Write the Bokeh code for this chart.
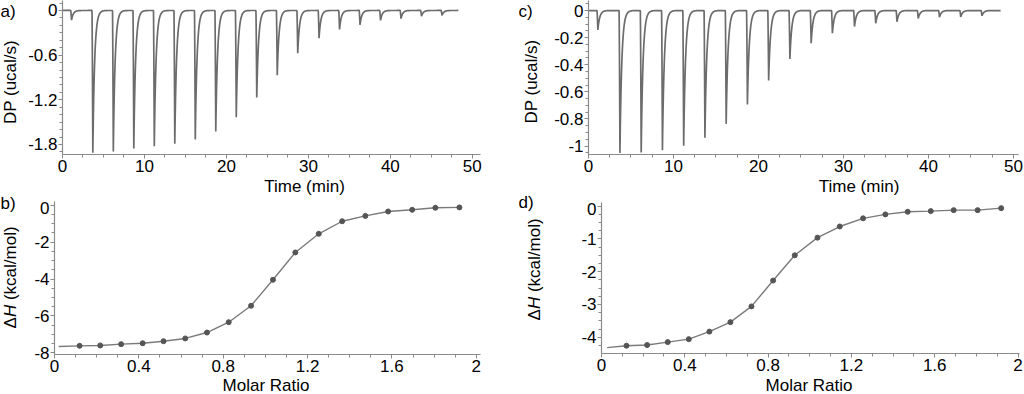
import numpy as np
from bokeh.plotting import figure
from bokeh.layouts import row, column
from bokeh.models import FixedTicker, CustomJSTickFormatter, Range1d
from bokeh.core.properties import value
from bokeh.embed import file_html
from bokeh.resources import INLINE

FONT = "Liberation Sans"
FS = "17px"

# ---------------- data ----------------
# injection peak times (min), shared by both raw thermograms
peak_times = [1.1, 3.7, 6.2, 8.7, 11.2, 13.7, 16.2, 18.7, 21.2, 23.7,
              26.2, 28.7, 31.3, 33.8, 36.3, 38.8, 41.3, 43.8, 46.3]
# peak depths (ucal/s, magnitude)
peaks_a = [0.13, 1.913, 1.895, 1.855, 1.824, 1.79, 1.734, 1.626, 1.434, 1.17,
           0.87, 0.574, 0.372, 0.255, 0.193, 0.134, 0.11, 0.077, 0.067]
peaks_c = [0.143, 1.05, 1.047, 1.03, 0.998, 0.939, 0.836, 0.693, 0.516, 0.357,
           0.241, 0.167, 0.118, 0.094, 0.083, 0.059, 0.049, 0.047, 0.039]
end_a = 48.3
end_c = 48.5

# integrated heats
ratio_b = [0.119, 0.217, 0.316, 0.418, 0.517, 0.62, 0.723, 0.826, 0.932,
           1.036, 1.142, 1.253, 1.364, 1.474, 1.582, 1.696, 1.806, 1.92]
dh_b = [-7.62, -7.60, -7.53, -7.48, -7.37, -7.22, -6.90, -6.34, -5.45,
        -4.04, -2.56, -1.55, -0.87, -0.58, -0.34, -0.25, -0.14, -0.12]
fit_b_x = [0.02] + ratio_b
fit_b_y = [-7.66] + dh_b

ratio_d = [0.12, 0.219, 0.318, 0.419, 0.518, 0.619, 0.72, 0.824, 0.928,
           1.037, 1.144, 1.256, 1.363, 1.47, 1.581, 1.691, 1.806, 1.919]
dh_d = [-4.26, -4.24, -4.15, -4.06, -3.83, -3.54, -3.06, -2.27, -1.50,
        -0.96, -0.62, -0.37, -0.25, -0.17, -0.15, -0.12, -0.12, -0.06]
fit_d_x = [0.027] + ratio_d
fit_d_y = [-4.32] + dh_d

# ticks
time_ticks = [0, 10, 20, 30, 40, 50]
time_labels = ["0", "10", "20", "30", "40", "50"]
ratio_ticks = [0, 0.4, 0.8, 1.2, 1.6, 2]
ratio_labels = ["0", "0.4", "0.8", "1.2", "1.6", "2"]
dp_a_ticks = [0, -0.6, -1.2, -1.8]
dp_a_labels = ["0", "-0.6", "-1.2", "-1.8"]
dp_c_ticks = [0, -0.2, -0.4, -0.6, -0.8, -1]
dp_c_labels = ["0", "-0.2", "-0.4", "-0.6", "-0.8", "-1"]
dh_b_ticks = [0, -2, -4, -6, -8]
dh_b_labels = ["0", "-2", "-4", "-6", "-8"]
dh_d_ticks = [0, -1, -2, -3, -4]
dh_d_labels = ["0", "-1", "-2", "-3", "-4"]

# texts
panel_letters = ["a)", "b)", "c)", "d)"]
dp_title = "DP (ucal/s)"
time_title = "Time (min)"
ratio_title = "Molar Ratio"
dh_parts = ["Δ", "H", "(kcal/mol)"]


def minor(lo, hi, step):
    n = int(round((hi - lo) / step))
    return [round(lo + i * step, 4) for i in range(n + 1)]


def trace(times, depths, t_end, fall=0.1, tau=0.22):
    t = np.union1d(np.linspace(0, t_end, 5000), np.array(times))
    y = np.zeros_like(t)
    for tp, d in zip(times, depths):
        t0 = tp - fall
        m = (t >= t0) & (t < tp)
        y[m] -= d * ((t[m] - t0) / fall) ** 1.3
        m2 = t >= tp
        y[m2] -= d * np.exp(-(t[m2] - tp) / tau)
    return t, y


LINE = "#6c6c6c"
FITLINE = "#7a7a7a"
DOT = "#555555"
AXIS = "#8a8a8a"


def make_fig(xr, yr, fw, fh, bl, br, bt, bb):
    p = figure(x_range=Range1d(*xr), y_range=Range1d(*yr),
               frame_width=fw, frame_height=fh,
               min_border_left=bl, min_border_right=br,
               min_border_top=bt, min_border_bottom=bb,
               output_backend="svg", toolbar_location=None,
               background_fill_color="white", border_fill_color="white")
    p.grid.visible = False
    p.outline_line_color = None
    return p


def make_strip(w, h):
    s = figure(x_range=Range1d(0, w), y_range=Range1d(0, h),
               frame_width=w, frame_height=h,
               min_border_left=0, min_border_right=0,
               min_border_top=0, min_border_bottom=0,
               x_axis_type=None, y_axis_type=None,
               output_backend="svg", toolbar_location=None,
               background_fill_color="white", border_fill_color="white")
    s.grid.visible = False
    s.outline_line_color = None
    return s


def put(s, x, y, text, angle=0.0, align="left", baseline="middle", fstyle="normal"):
    s.text(x=[x], y=[y], text=[text], angle=angle,
           text_align=value(align), text_baseline=value(baseline),
           text_font=value(FONT), text_font_size=value(FS),
           text_font_style=value(fstyle), text_color="black")


def style_axis(ax, ticks, minors, labels):
    ax.ticker = FixedTicker(ticks=ticks, minor_ticks=minors)
    ax.formatter = CustomJSTickFormatter(
        args=dict(vals=ticks, labs=labels),
        code="for (let i = 0; i < vals.length; i++) { if (Math.abs(vals[i] - tick) < 1e-9) return labs[i]; } return '';")
    ax.axis_line_color = AXIS
    ax.axis_line_width = 1.2
    ax.major_tick_line_color = AXIS
    ax.minor_tick_line_color = AXIS
    ax.major_tick_in = 0
    ax.major_tick_out = 4
    ax.minor_tick_in = 0
    ax.minor_tick_out = 3
    ax.major_label_text_font = FONT
    ax.major_label_text_font_size = FS
    ax.major_label_text_color = "black"
    ax.major_label_standoff = 1


def dh_label(s, x, y0):
    put(s, x, y0, dh_parts[0], angle=np.pi / 2)
    put(s, x, y0 + 11.4, dh_parts[1], angle=np.pi / 2, fstyle="italic")
    put(s, x, y0 + 28.4, dh_parts[2], angle=np.pi / 2)


# ---------------- panel a ----------------
pa = make_fig((0, 51.0), (-1.935, 0.134), 418, 154, 42, 38, 0, 24)
ta, ya = trace(peak_times, peaks_a, end_a)
pa.line(ta, ya, line_color=LINE, line_width=1.7)
style_axis(pa.xaxis[0], time_ticks, minor(0, 50, 2.5), time_labels)
style_axis(pa.yaxis[0], dp_a_ticks, minor(-1.9, 0.1, 0.1), dp_a_labels)
sa = make_strip(20, 178)
put(sa, 0, 167.5, panel_letters[0])
put(sa, 10, 96.5, dp_title, angle=np.pi / 2, align="center")

# ---------------- panel b ----------------
ta_strip = make_strip(498, 23)
put(ta_strip, 250, 15, time_title, align="center", baseline="middle")
pb = make_fig((0, 2.02), (-8.09, 0.2), 426, 153, 34, 38, 0, 24)
pb.line(fit_b_x, fit_b_y, line_color=FITLINE, line_width=1.4)
pb.scatter(ratio_b, dh_b, size=5, color=DOT)
style_axis(pb.xaxis[0], ratio_ticks, minor(0, 2, 0.1), ratio_labels)
style_axis(pb.yaxis[0], dh_b_ticks, minor(-8, 0, 0.5), dh_b_labels)
sb = make_strip(20, 200)
put(sb, 0, 175.5, panel_letters[1])
dh_label(sb, 10, 50)
mb_strip = make_strip(518, 16)
put(mb_strip, 265.5, 9, ratio_title, align="center", baseline="middle")

# ---------------- panel c ----------------
pc = make_fig((0, 50.6), (-1.062, 0.074), 430, 154, 47, 6, 0, 24)
tc, yc = trace(peak_times, peaks_c, end_c)
pc.line(tc, yc, line_color=LINE, line_width=1.7)
style_axis(pc.xaxis[0], time_ticks, minor(0, 50, 2.5), time_labels)
style_axis(pc.yaxis[0], dp_c_ticks, minor(-1.05, 0.05, 0.05), dp_c_labels)
sc = make_strip(23, 178)
put(sc, 0, 167.5, panel_letters[2])
put(sc, 12.5, 97, dp_title, angle=np.pi / 2, align="center")

# ---------------- panel d ----------------
tc_strip = make_strip(479, 24)
put(tc_strip, 257.5, 16, time_title, align="center", baseline="middle")
pd_ = make_fig((0, 2.007), (-4.498, 0.113), 418, 151, 56, 5, 0, 25)
pd_.line(fit_d_x, fit_d_y, line_color=FITLINE, line_width=1.4)
pd_.scatter(ratio_d, dh_d, size=5, color=DOT)
style_axis(pd_.xaxis[0], ratio_ticks, minor(0, 2, 0.1), ratio_labels)
style_axis(pd_.yaxis[0], dh_d_ticks, minor(-4.5, 0, 0.25), dh_d_labels)
sd = make_strip(27, 200)
put(sd, 0, 176.3, panel_letters[3])
dh_label(sd, 16, 58)
md_strip = make_strip(506, 16)
put(md_strip, 290.5, 9, ratio_title, align="center", baseline="middle")

left = column(row(sa, pa), row(sb, column(ta_strip, pb)), mb_strip)
right = column(row(sc, pc), row(sd, column(tc_strip, pd_)), md_strip)
layout = row(left, right)

open("out.html", "w").write(file_html(layout, INLINE))
